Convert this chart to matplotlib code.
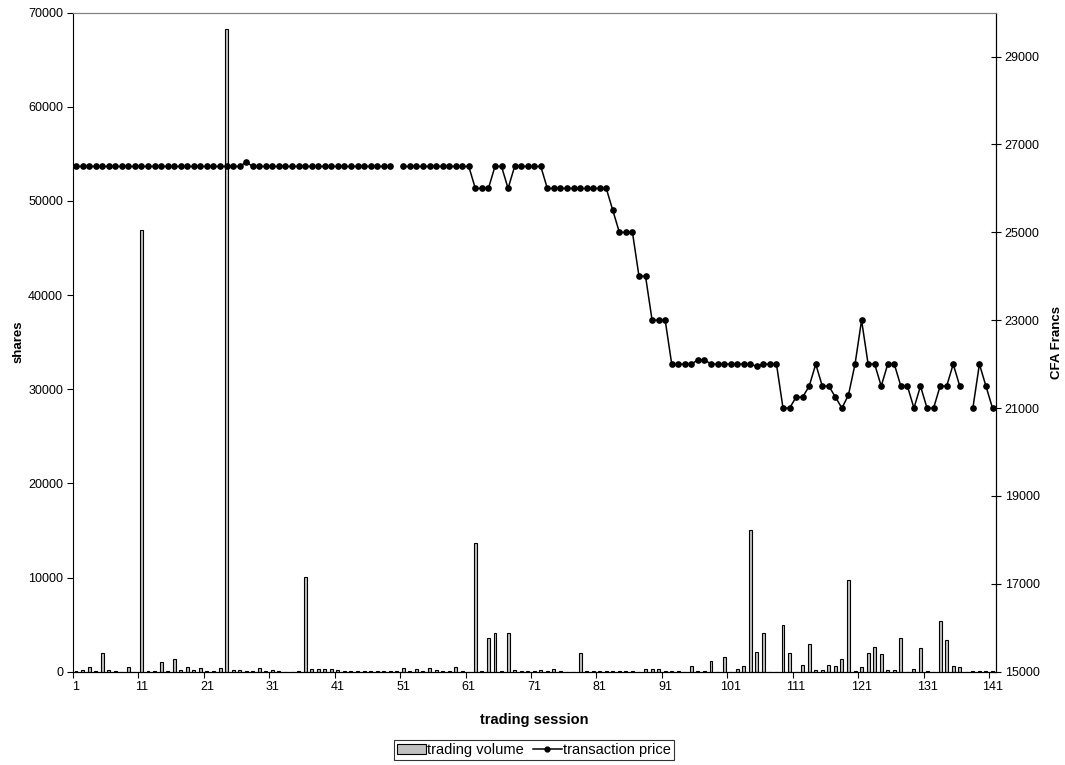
import numpy as np
import matplotlib
matplotlib.use('Agg')
import matplotlib.pyplot as plt
from matplotlib.patches import Patch
from matplotlib.lines import Line2D

plt.rcParams['font.family'] = ['Liberation Sans', 'DejaVu Sans']

# ── Data ───────────────────────────────────────────────────────────────────────

sessions = np.arange(1, 142)

volume = [
    100, 200, 450, 100, 2000, 180, 60, 0, 500, 0,
    46900, 100, 100, 1000, 100, 1300, 150, 530, 150, 350,
    100, 100, 350, 68300, 200, 200, 100, 100, 390, 100,
    150, 100, 0, 0, 50, 10050, 300, 300, 300, 300,
    150, 100, 100, 100, 100, 100, 80, 80, 80, 60,
    350, 100, 300, 100, 390, 150, 100, 100, 530, 50,
    0, 13700, 100, 3600, 4100, 100, 4100, 150, 50, 50,
    50, 150, 50, 300, 50, 0, 0, 2000, 100, 30,
    30, 30, 30, 30, 30, 30, 0, 250, 250, 300,
    50, 30, 100, 0, 600, 100, 30, 1170, 0, 1520,
    0, 300, 560, 15000, 2100, 4100, 0, 0, 5000, 2000,
    0, 700, 2930, 180, 180, 700, 600, 1340, 9720, 50,
    460, 2000, 2620, 1870, 200, 200, 3600, 0, 300, 2550,
    100, 0, 5400, 3320, 600, 500, 0, 30, 30, 30,
    50,
]

nan = np.nan
price = [
    26500, 26500, 26500, 26500, 26500, 26500, 26500, 26500, 26500, 26500,
    26500, 26500, 26500, 26500, 26500, 26500, 26500, 26500, 26500, 26500,
    26500, 26500, 26500, 26500, 26500, 26500, 26600, 26500, 26500, 26500,
    26500, 26500, 26500, 26500, 26500, 26500, 26500, 26500, 26500, 26500,
    26500, 26500, 26500, 26500, 26500, 26500, 26500, 26500, 26500, nan,
    26500, 26500, 26500, 26500, 26500, 26500, 26500, 26500, 26500, 26500,
    26500, 26000, 26000, 26000, 26500, 26500, 26000, 26500, 26500, 26500,
    26500, 26500, 26000, 26000, 26000, 26000, 26000, 26000, 26000, 26000,
    26000, 26000, 25500, 25000, 25000, 25000, 24000, 24000, 23000, 23000,
    23000, 22000, 22000, 22000, 22000, 22100, 22100, 22000, 22000, 22000,
    22000, 22000, 22000, 22000, 21950, 22000, 22000, 22000, 21000, 21000,
    21250, 21250, 21500, 22000, 21500, 21500, 21250, 21000, 21300, 22000,
    23000, 22000, 22000, 21500, 22000, 22000, 21500, 21500, 21000, 21500,
    21000, 21000, 21500, 21500, 22000, 21500, nan, 21000, 22000, 21500,
    21000,
]

label_sessions = np.arange(1, 142, 10)
vol_ticks = np.arange(0, 70001, 10000)
price_ticks = np.arange(15000, 29001, 2000)

# ── Figure ─────────────────────────────────────────────────────────────────────

fig = plt.figure(figsize=(10.65, 7.65), dpi=100)
ax = fig.add_axes([0.0683, 0.1220, 0.8667, 0.8614])
ax2 = ax.twinx()

ax.bar(sessions, volume, width=0.45, color='#c0c0c0', edgecolor='black',
       linewidth=0.8, zorder=2)
ax2.plot(sessions, price, color='black', lw=1.1, marker='o', ms=3.8,
         markerfacecolor='black', markeredgecolor='black')

ax.set_xlim(0.5, 141.5)
ax.set_ylim(0, 70000)
ax2.set_ylim(15000, 30000)

# x ticks on category boundaries, labels centred on categories
ax.set_xticks(label_sessions - 0.5)
ax.set_xticklabels([])
ax.set_xticks(label_sessions, minor=True)
ax.set_xticklabels([str(s) for s in label_sessions], minor=True, fontsize=9)
ax.tick_params(axis='x', which='major', direction='out', length=4, width=0.8)
ax.tick_params(axis='x', which='minor', length=0, pad=7)

ax.set_yticks(vol_ticks)
ax.set_yticklabels([str(v) for v in vol_ticks], fontsize=9)
ax.tick_params(axis='y', direction='out', length=4, width=0.8, pad=3)

ax2.set_yticks(price_ticks)
ax2.set_yticklabels([str(v) for v in price_ticks], fontsize=9)
ax2.tick_params(axis='y', direction='inout', length=7, width=0.8, pad=3)

for sp in ('left', 'bottom'):
    ax.spines[sp].set_color('black')
ax.spines['top'].set_color('#808080')
ax2.spines['top'].set_color('#808080')
ax2.spines['right'].set_color('black')
ax2.spines['left'].set_visible(False)

ax.set_ylabel('shares', fontsize=9.5, fontweight='bold')
ax.yaxis.set_label_coords(-0.052, 0.5)
ax2.set_ylabel('CFA Francs', fontsize=9.5, fontweight='bold')
ax2.yaxis.set_label_coords(1.060, 0.5)
ax.set_xlabel('trading session', fontsize=10.5, fontweight='bold')
ax.xaxis.set_label_coords(0.5, -0.062)

handles = [
    Patch(facecolor='#c0c0c0', edgecolor='black', linewidth=0.8),
    Line2D([0], [0], color='black', lw=1.1, marker='o', ms=3.5),
]
leg = fig.legend(handles, ['trading volume', 'transaction price'],
                 loc='center', bbox_to_anchor=(0.5014, 0.0196), ncol=2,
                 fontsize=10.5, frameon=True, fancybox=False, edgecolor='black',
                 handlelength=2.0, handletextpad=0.1, columnspacing=0.6,
                 borderpad=0.2, borderaxespad=0)
leg.get_frame().set_linewidth(0.8)

fig.savefig('out.png', dpi=100)
